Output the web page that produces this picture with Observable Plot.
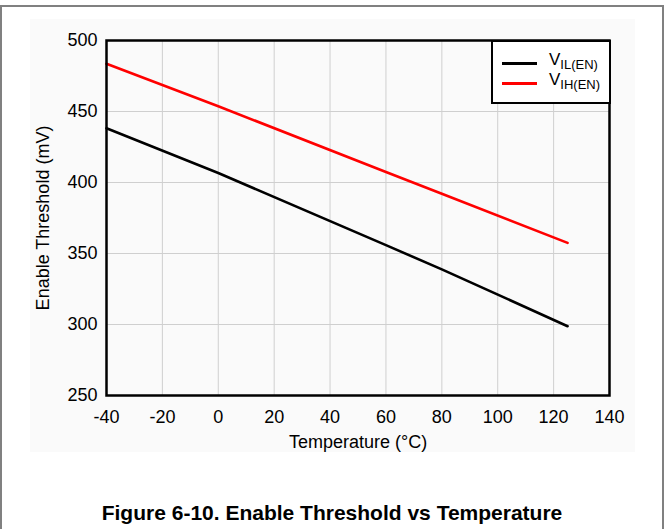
<!DOCTYPE html>
<html>
<head>
<meta charset="utf-8">
<script src="https://cdn.jsdelivr.net/npm/d3@7"></script>
<script src="https://cdn.jsdelivr.net/npm/@observablehq/plot@0.6"></script>
<style>
  html, body { margin: 0; padding: 0; background: #fff; }
  #wrap { position: relative; width: 664px; height: 529px; overflow: hidden; font-family: "Liberation Sans", Arial, sans-serif; }
  #outer { position: absolute; left: 0; top: 5px; width: 660px; height: 530px; border-top: 2px solid #808080; border-left: 2px solid #808080; border-right: 2px solid #808080; }
  #panel { position: absolute; left: 30px; top: 19px; width: 605px; height: 433px; background: #fafafa; }
  #chart { position: absolute; left: 0; top: 0; }
  #title { position: absolute; left: 0; width: 664px; top: 501px; text-align: center; font-weight: bold; font-size: 21px; color: #000; }
  #legend { position: absolute; left: 491px; top: 40px; border: 2px solid #000; background: #fff; box-sizing: border-box; width: 120px; height: 64px; }
  .item { position: absolute; left: 9px; height: 20px; }
  .sw { position: absolute; left: 0; top: 9px; width: 35px; height: 3px; }
  .lab { position: absolute; left: 47px; top: -3px; font-size: 17px; white-space: nowrap; color: #000; }
  .lab sub { font-size: 13px; vertical-align: -4px; }
</style>
</head>
<body>
<div id="wrap">
  <div id="outer"></div>
  <div id="panel"></div>
  <div id="chart"></div>
  <div id="legend"></div>
  <div id="title">Figure 6-10. Enable Threshold vs Temperature</div>
</div>
<script>
const temps = [-40, 0, 60, 80, 125];
// V_IL(EN) (mV)
const vil = [438.2, 406.7, 355.9, 338.8, 298.8];
// V_IH(EN) (mV)
const vih = [483.6, 453.7, 407.4, 392.1, 357.5];
const seriesNames = ["VIL(EN)", "VIH(EN)"];
const seriesColors = ["#000000", "#ff0000"];
const xTicks = [-40, -20, 0, 20, 40, 60, 80, 100, 120, 140];
const yTicks = [250, 300, 350, 400, 450, 500];

const data = [
  ...temps.map((t, i) => ({temp: t, v: vil[i], s: seriesNames[0]})),
  ...temps.map((t, i) => ({temp: t, v: vih[i], s: seriesNames[1]}))
];

const chart = Plot.plot({
  width: 664,
  height: 529,
  marginLeft: 106,
  marginRight: 55,
  marginTop: 40,
  marginBottom: 134,
  style: {background: "transparent", fontFamily: "'Liberation Sans', Arial, sans-serif", fontSize: "18px", color: "#000"},
  x: {domain: [-40, 140]},
  y: {domain: [250, 500]},
  color: {domain: seriesNames, range: seriesColors},
  marks: [
    Plot.gridX(xTicks, {stroke: "#cfcfcf", strokeOpacity: 1, strokeWidth: 1}),
    Plot.gridY(yTicks, {stroke: "#cfcfcf", strokeOpacity: 1, strokeWidth: 1}),
    Plot.axisX(xTicks, {tickSize: 0, tickPadding: 15, fontSize: 18, label: "Temperature (°C)", labelAnchor: "center", labelArrow: "none", labelOffset: 52, tickFormat: d => String(d)}),
    Plot.axisY(yTicks, {tickSize: 0, tickPadding: 9, fontSize: 18, label: "Enable Threshold (mV)", labelAnchor: "center", labelArrow: "none", labelOffset: 70}),
    Plot.line(data, {x: "temp", y: "v", z: "s", stroke: "s", strokeWidth: 2.6}),
    Plot.frame({stroke: "#000", strokeWidth: 2.5})
  ]
});
document.getElementById("chart").appendChild(chart);

const legend = document.getElementById("legend");
seriesNames.forEach((name, i) => {
  const it = document.createElement("div");
  it.className = "item";
  it.style.top = (11 + i * 20) + "px";
  const sw = document.createElement("div");
  sw.className = "sw";
  sw.style.background = seriesColors[i];
  const lab = document.createElement("div");
  lab.className = "lab";
  lab.innerHTML = "V<sub>" + name.slice(1) + "</sub>";
  it.appendChild(sw); it.appendChild(lab);
  legend.appendChild(it);
});
</script>
</body>
</html>
